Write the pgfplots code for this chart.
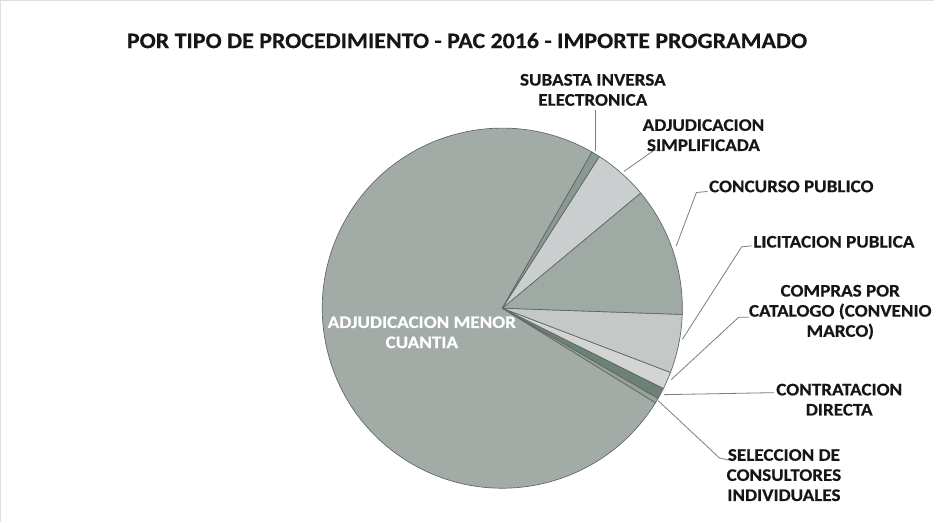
\documentclass[border=0pt]{standalone}
\usepackage{fontspec}
\setmainfont{Carlito}[FakeStretch=1.08, BoldFeatures={FakeBold=0.4}]
\usepackage{pgfplots}
\usepackage{pgfplotstable}
\pgfplotsset{compat=1.18}

\definecolor{cMenor}{RGB}{163,171,167}
\definecolor{cSel}{RGB}{150,163,156}
\definecolor{cCon}{RGB}{108,130,117}
\definecolor{cCom}{RGB}{210,213,212}
\definecolor{cLic}{RGB}{196,200,199}
\definecolor{cCcu}{RGB}{160,170,165}
\definecolor{cSim}{RGB}{202,206,206}
\definecolor{cSub}{RGB}{138,154,146}
\definecolor{edge}{RGB}{95,102,99}
\definecolor{leader}{RGB}{125,125,125}
\definecolor{txt}{RGB}{22,22,22}

% importe programado, % del total
\pgfplotstableread{
value col
74.5  cMenor
0.45  cSel
1.0   cCon
1.55  cCom
5.25  cLic
11.6  cCcu
4.9   cSim
0.75  cSub
}\pietable

\newcommand\lab{\fontsize{13.2}{15}\selectfont\bfseries\color{txt}}

\begin{document}
\begin{tikzpicture}
\begin{axis}[
  scale only axis, width=702pt, height=395.25pt,
  xmin=0, xmax=936, ymin=0, ymax=527,
  hide axis, clip=false,
]
% marco tenue
\draw[gray!25, line width=0.6pt] (axis cs:8,0) -- (axis cs:8,519) -- (axis cs:936,519);

\pgfplotsextra{
  \xdef\ang{60.1}
  \foreach \i in {0,...,7} {
    \pgfplotstablegetelem{\i}{value}\of\pietable \let\v\pgfplotsretval
    \pgfplotstablegetelem{\i}{col}\of\pietable \let\c\pgfplotsretval
    \pgfmathsetmacro\endang{\ang+3.6*\v}
    \draw[fill=\c, draw=edge, line width=0.5pt, line join=round]
      (axis cs:507,213) -- ++(\ang:134.25pt)
      arc[start angle=\ang, end angle=\endang, radius=134.25pt] -- cycle;
    \xdef\ang{\endang}
  }
}

\node[font=\fontsize{16.5}{19}\selectfont\bfseries, text=txt] at (axis cs:472,479)
  {POR TIPO DE PROCEDIMIENTO - PAC 2016 - IMPORTE PROGRAMADO};

\node[font=\lab, text=white, align=center] at (axis cs:427,189)
  {ADJUDICACION MENOR\\CUANTIA};

\begin{scope}[leader, line width=0.6pt]
\draw (axis cs:600,410) -- (axis cs:600,369);
\draw (axis cs:667,370) -- (axis cs:658,370) -- (axis cs:628,349);
\draw (axis cs:711,329) -- (axis cs:700,328) -- (axis cs:680,275);
\draw (axis cs:755,275) -- (axis cs:745,274) -- (axis cs:686,182);
\draw (axis cs:752,204) -- (axis cs:742,204) -- (axis cs:675,142);
\draw (axis cs:668,127) -- (axis cs:777,129);
\draw (axis cs:662,121) -- (axis cs:723,64) -- (axis cs:732,62);
\end{scope}

\node[font=\lab, align=center] at (axis cs:597,430) {SUBASTA INVERSA\\ELECTRONICA};
\node[font=\lab, align=center] at (axis cs:707,385) {ADJUDICACION\\SIMPLIFICADA};
\node[font=\lab, anchor=west, inner sep=1pt] at (axis cs:711,334) {CONCURSO PUBLICO};
\node[font=\lab, anchor=west, inner sep=1pt] at (axis cs:755,279) {LICITACION PUBLICA};
\node[font=\lab, align=center] at (axis cs:843,209) {COMPRAS POR\\CATALOGO (CONVENIO\\MARCO)};
\node[font=\lab, align=center] at (axis cs:842,122) {CONTRATACION\\DIRECTA};
\node[font=\lab, align=center] at (axis cs:787,47) {SELECCION DE\\CONSULTORES\\INDIVIDUALES};
\end{axis}
\end{tikzpicture}
\end{document}
